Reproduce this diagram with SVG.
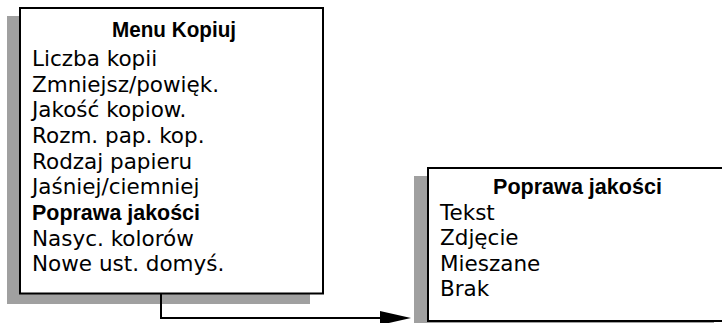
<svg xmlns="http://www.w3.org/2000/svg" width="722" height="323" viewBox="0 0 722 323">
<style>
.shadow{fill:#a0a0a0;stroke:none}
.box{fill:#fff;stroke:#000;stroke-width:2}
text{font-family:"DejaVu Sans","Liberation Sans",sans-serif;font-size:21.5px;fill:#000}
.t,.b{font-family:"Liberation Sans","DejaVu Sans",sans-serif;font-weight:bold;font-size:21.5px}
.t{text-anchor:middle}
.conn{fill:none;stroke:#000;stroke-width:2}
</style>
<rect width="722" height="323" fill="#fff"/>
<g id="menu-kopiuj">
<rect class="shadow" x="7" y="16" width="303" height="288"/>
<rect class="box" x="20" y="8" width="303" height="285.5"/>
<text class="t" x="174" y="37" textLength="124" lengthAdjust="spacingAndGlyphs">Menu Kopiuj</text>
<text x="32" y="66">Liczba kopii</text>
<text x="32" y="91.6">Zmniejsz/powięk.</text>
<text x="32" y="117.3">Jakość kopiow.</text>
<text x="32" y="143">Rozm. pap. kop.</text>
<text x="32" y="168.6">Rodzaj papieru</text>
<text x="32" y="194.3">Jaśniej/ciemniej</text>
<text class="b" x="32" y="220" textLength="168" lengthAdjust="spacingAndGlyphs">Poprawa jakości</text>
<text x="32" y="245.6">Nasyc. kolorów</text>
<text x="32" y="271.3">Nowe ust. domyś.</text>
</g>
<g id="poprawa-jakosci">
<rect class="shadow" x="414" y="176" width="300" height="160"/>
<rect class="box" x="428" y="168" width="300" height="153"/>
<text class="t" x="577.5" y="194" textLength="169" lengthAdjust="spacingAndGlyphs">Poprawa jakości</text>
<text x="440" y="219.6">Tekst</text>
<text x="440" y="245.2">Zdjęcie</text>
<text x="440" y="270.8">Mieszane</text>
<text x="440" y="296.4">Brak</text>
</g>
<g id="connectors">
<path class="conn" d="M161,294 V318 H382"/>
<polygon points="380,311 411,318 380,325" fill="#000"/>
</g>
</svg>
